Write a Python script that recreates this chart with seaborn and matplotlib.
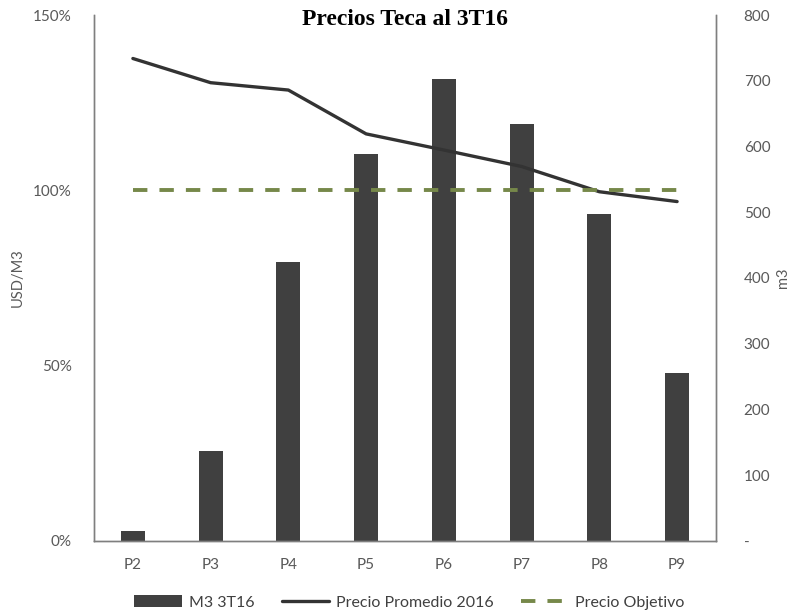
import numpy as np
import pandas as pd
import matplotlib
matplotlib.use("Agg")
import matplotlib.pyplot as plt
import seaborn as sns
from matplotlib.ticker import FuncFormatter, MultipleLocator
from matplotlib.patches import Patch
from matplotlib.lines import Line2D

# data
periods = ["P2", "P3", "P4", "P5", "P6", "P7", "P8", "P9"]
m3_3t16 = [15, 137, 424, 588, 703, 634, 498, 255]
precio_promedio = [1.376, 1.307, 1.286, 1.161, 1.115, 1.068, 0.996, 0.968]
precio_objetivo = [1.0] * 8

df = pd.DataFrame({
    "periodo": periods,
    "pos": np.arange(len(periods)),
    "m3": m3_3t16,
    "promedio": precio_promedio,
    "objetivo": precio_objetivo,
})

sns.set_style("white")
plt.rcParams["font.family"] = ["Lato", "DejaVu Sans"]

grey = "#595959"
bar_col = "#404040"
line_col = "#333333"
green = "#76884a"

fig = plt.figure(figsize=(7.92, 6.13), dpi=100)
ax = fig.add_axes([0.1187, 0.1175, 0.904 - 0.1187, 0.9755 - 0.1175])
ax2 = ax.twinx()

# bars on the right axis (m3)
sns.barplot(data=df, x="pos", y="m3", ax=ax2, color=bar_col, width=0.31,
            saturation=1, native_scale=True, edgecolor="none")

# lines on the left axis (USD/M3)
sns.lineplot(data=df, x="pos", y="promedio", ax=ax, color=line_col, lw=2.4)
sns.lineplot(data=df, x="pos", y="objetivo", ax=ax, color=green, lw=2.8,
             linestyle=(0, (3.7, 3.1)))

ax.set_zorder(ax2.get_zorder() + 1)
ax.patch.set_visible(False)

ax.set_xlim(-0.5, len(periods) - 0.5)
ax.set_ylim(0, 1.5)
ax2.set_ylim(0, 800)
ax.yaxis.set_major_locator(MultipleLocator(0.5))
ax.yaxis.set_major_formatter(FuncFormatter(lambda v, p: f"{v*100:.0f}%"))
ax2.yaxis.set_major_locator(MultipleLocator(100))
ax2.yaxis.set_major_formatter(FuncFormatter(lambda v, p: "-" if v == 0 else f"{v:.0f}"))
ax.set_xticks(df["pos"])
ax.set_xticklabels(periods)

for a in (ax, ax2):
    a.tick_params(length=0, colors=grey, labelsize=11)
    a.spines["top"].set_visible(False)
    for s in ("left", "right", "bottom"):
        a.spines[s].set_color("#7f7f7f")
        a.spines[s].set_linewidth(1.0)
ax.tick_params(axis="y", pad=16)
ax2.tick_params(axis="y", pad=20)
ax.tick_params(axis="x", pad=12)
ax2.set_xlabel("")
ax.set_xlabel("")

ax.set_ylabel("USD/M3", color=grey, fontsize=10.5, labelpad=6)
ax2.set_ylabel("m3", color=grey, fontsize=10.5, labelpad=4)

ax.text(0.5, 1.012, "Precios Teca al 3T16", transform=ax.transAxes,
        ha="center", va="top", fontsize=17, fontweight="bold",
        family="Liberation Serif", color="black")

handles = [
    Patch(facecolor=bar_col, edgecolor="none"),
    Line2D([0], [0], color=line_col, lw=2.4),
    Line2D([0], [0], color=green, lw=2.8, linestyle=(0, (3.7, 3.1))),
]
labels = ["M3 3T16", "Precio Promedio 2016", "Precio Objetivo"]
leg = fig.legend(handles, labels, loc="lower center", ncol=3, frameon=False,
                 bbox_to_anchor=(0.517, -0.018), fontsize=11.5, handlelength=3.0,
                 columnspacing=1.7, handletextpad=0.4)
for t in leg.get_texts():
    t.set_color("#404040")

fig.savefig("out.png", dpi=100)
